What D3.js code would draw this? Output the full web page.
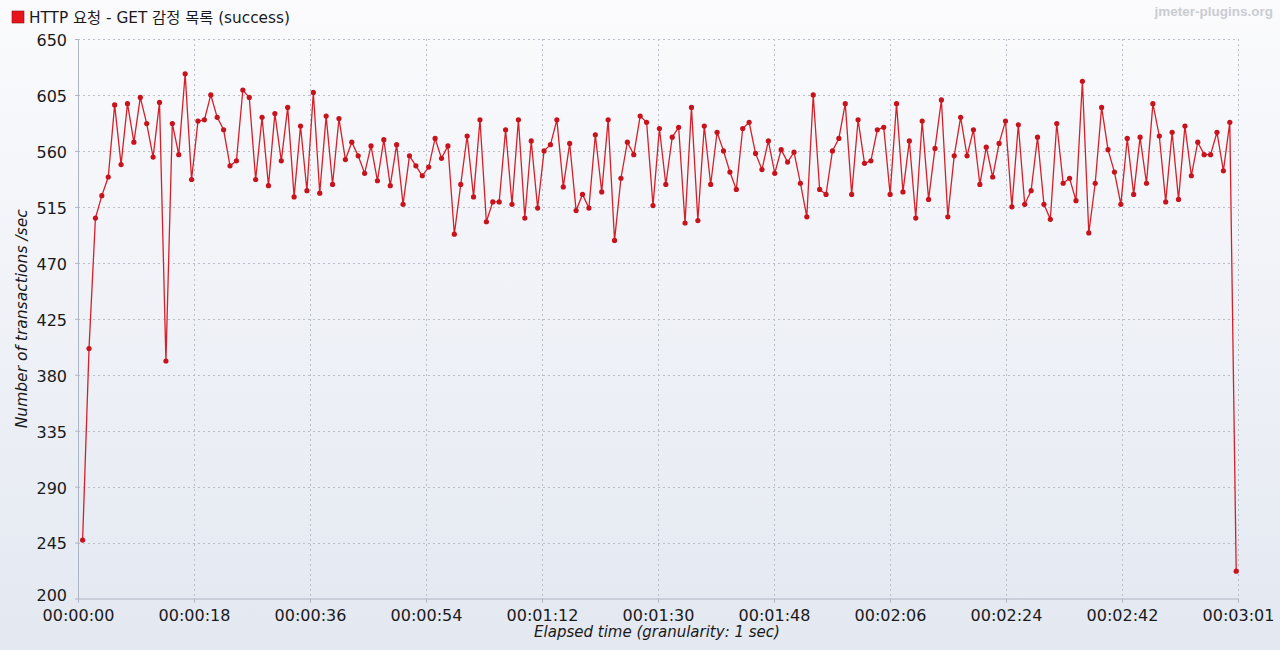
<!DOCTYPE html>
<html>
<head>
<meta charset="utf-8">
<title>HTTP 요청 - GET 감정 목록 (success)</title>
<script src="https://d3js.org/d3.v7.min.js"></script>
<style>
  html, body { margin: 0; padding: 0; background: #fff; }
  svg { display: block; font-family: "DejaVu Sans", "Noto Sans CJK KR", sans-serif; }
</style>
</head>
<body>
<div id="chart"></div>
<script>
// series name and legend
var seriesName = "HTTP 요청 - GET 감정 목록 (success)";

// transactions per second, one sample per second (181 samples)
var tps = [
  247, 401, 506, 524, 539, 597, 549, 598, 567, 603, 582, 555, 599, 391, 582, 557,
  622, 537, 584, 585, 605, 587, 577, 548, 552, 609, 603, 537, 587, 532, 590, 552,
  595, 523, 580, 528, 607, 526, 588, 533, 586, 553, 567, 556, 542, 564, 536, 569,
  532, 565, 517, 556, 548, 540, 547, 570, 554, 564, 493, 533, 572, 523, 585, 503,
  519, 519, 577, 517, 585, 506, 568, 514, 560, 565, 585, 531, 566, 512, 525, 514,
  573, 527, 585, 488, 538, 567, 557, 588, 583, 516, 578, 533, 571, 579, 502, 595,
  504, 580, 533, 575, 560, 543, 529, 578, 583, 558, 545, 568, 542, 561, 551, 559,
  534, 507, 605, 529, 525, 560, 570, 598, 525, 585, 550, 552, 577, 579, 525, 598,
  527, 568, 506, 584, 521, 562, 601, 507, 556, 587, 556, 577, 533, 563, 539, 566,
  584, 515, 581, 517, 528, 571, 517, 505, 582, 534, 538, 520, 616, 494, 534, 595,
  561, 543, 517, 570, 525, 571, 534, 598, 572, 519, 575, 521, 580, 540, 567, 557,
  557, 575, 544, 583, 222
];
var firstSampleSec = 0.72;   // first sample offset from test start, seconds
var durationSec = 181;

// axis ticks
var yTicks = [200, 245, 290, 335, 380, 425, 470, 515, 560, 605, 650];
var xTickLabels = ["00:00:00", "00:00:18", "00:00:36", "00:00:54", "00:01:12", "00:01:30",
                   "00:01:48", "00:02:06", "00:02:24", "00:02:42", "00:03:01"];

var W = 1280, H = 650;
var margin = {top: 39, right: 42, bottom: 51.5, left: 78};
var width = W - margin.left - margin.right;
var height = H - margin.top - margin.bottom;

var svg = d3.select("#chart").append("svg")
    .attr("width", W)
    .attr("height", H);

// background gradient
var grad = svg.append("defs").append("linearGradient")
    .attr("id", "bg").attr("x1", 0).attr("y1", 0).attr("x2", 0).attr("y2", 1);
grad.append("stop").attr("offset", "0%").attr("stop-color", "#fbfbfd");
grad.append("stop").attr("offset", "100%").attr("stop-color", "#e3e8f1");
svg.append("rect").attr("width", W).attr("height", H).attr("fill", "url(#bg)");

var g = svg.append("g")
    .attr("transform", "translate(" + margin.left + "," + margin.top + ")");

var x = d3.scaleLinear().domain([0, durationSec]).range([0, width]);
var y = d3.scaleLinear().domain([200, 650]).range([height, 0]);

var xTickValues = xTickLabels.map(function(d, i) { return i * durationSec / (xTickLabels.length - 1); });

// grid
g.append("g").selectAll("line")
  .data(yTicks.slice(1))
  .enter().append("line")
    .attr("x1", 0).attr("x2", width)
    .attr("y1", function(d) { return Math.round(y(d)) + 0.5; })
    .attr("y2", function(d) { return Math.round(y(d)) + 0.5; })
    .attr("stroke", "#b9bec8")
    .attr("stroke-dasharray", "2,3");

g.append("g").selectAll("line")
  .data(xTickValues.slice(1))
  .enter().append("line")
    .attr("y1", 0).attr("y2", height)
    .attr("x1", function(d) { return Math.round(x(d)) + 0.5; })
    .attr("x2", function(d) { return Math.round(x(d)) + 0.5; })
    .attr("stroke", "#b9bec8")
    .attr("stroke-dasharray", "2,3");

// X axis
var xAxis = g.append("g")
    .attr("transform", "translate(0," + height + ")")
    .call(d3.axisBottom(x)
      .tickValues(xTickValues)
      .tickFormat(function(d, i) { return xTickLabels[i]; })
      .tickSizeInner(4).tickSizeOuter(0).tickPadding(7));

// Y axis
var yAxis = g.append("g")
    .call(d3.axisLeft(y)
      .tickValues(yTicks)
      .tickSizeInner(3).tickSizeOuter(0).tickPadding(8));

[xAxis, yAxis].forEach(function(a) {
  a.select(".domain").attr("stroke", "#aeb5c2");
  a.selectAll(".tick line").attr("stroke", "#aeb5c2");
  a.selectAll(".tick text")
    .attr("fill", "#1a1a1a")
    .style("font-family", "'DejaVu Sans', sans-serif")
    .style("font-size", "16px");
});
yAxis.selectAll(".tick text").attr("dy", "0.4em");
// lowest label sits just above the first time label
yAxis.selectAll(".tick text").filter(function(d) { return d === 200; }).attr("dy", "0.1em");
xAxis.selectAll(".tick text").attr("dy", "0.71em");

// series line and points
var line = d3.line()
    .x(function(d, i) { return x(firstSampleSec + i); })
    .y(function(d) { return y(d); });

g.append("path")
    .datum(tps)
    .attr("d", line)
    .attr("fill", "none")
    .attr("stroke", "#d42029")
    .attr("stroke-width", 1.3);

g.append("g").selectAll("circle")
  .data(tps)
  .enter().append("circle")
    .attr("cx", function(d, i) { return x(firstSampleSec + i); })
    .attr("cy", function(d) { return y(d); })
    .attr("r", 2.6)
    .attr("fill", "#c8121c");

// axis titles
svg.append("text")
    .attr("x", 657)
    .attr("y", 637)
    .attr("text-anchor", "middle")
    .attr("fill", "#1a1a1a")
    .style("font-size", "15px")
    .style("font-style", "italic")
    .text("Elapsed time (granularity: 1 sec)");

svg.append("text")
    .attr("transform", "translate(27," + (margin.top + height / 2) + ") rotate(-90)")
    .attr("text-anchor", "middle")
    .attr("fill", "#1a1a1a")
    .style("font-size", "15.5px")
    .style("font-style", "italic")
    .text("Number of transactions /sec");

// legend
svg.append("rect")
    .attr("x", 12).attr("y", 11).attr("width", 12).attr("height", 12)
    .attr("fill", "#e8141c")
    .attr("stroke", "#8a1010").attr("stroke-width", 0.6);
svg.append("text")
    .attr("x", 29).attr("y", 23)
    .attr("fill", "#1a1a1a")
    .style("font-size", "15.3px")
    .text(seriesName);

// watermark
svg.append("text")
    .attr("x", 1273).attr("y", 16)
    .attr("text-anchor", "end")
    .attr("fill", "#c9ccd3")
    .style("font-family", "'Liberation Sans', sans-serif")
    .style("font-size", "13.5px")
    .style("font-weight", "bold")
    .text("jmeter-plugins.org");
</script>
</body>
</html>
